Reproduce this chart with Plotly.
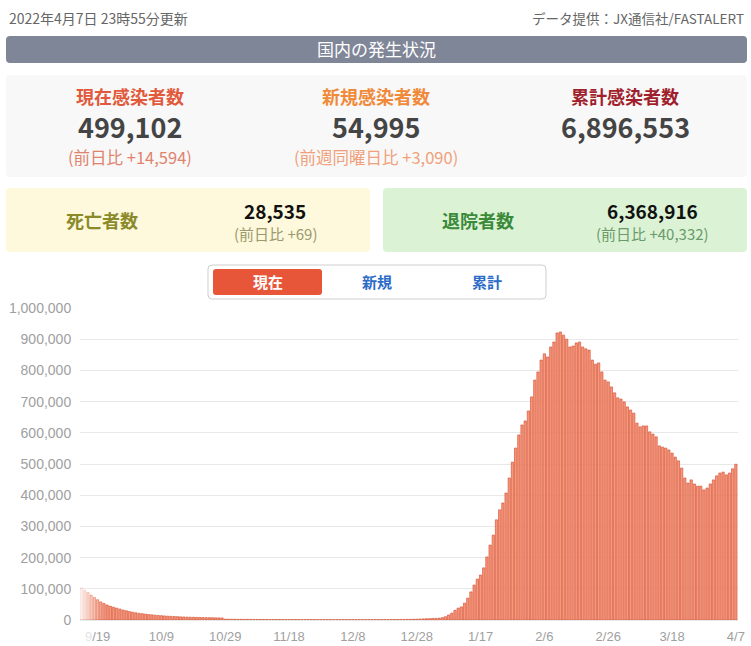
import plotly.graph_objects as go
import pandas as pd

W, H = 751, 646

# ---------------- data ----------------
start_date = "2021-09-14"
sep_vals = [103000, 95000, 88000, 80000, 72000, 65000, 58000, 53000, 48000, 44000,
            41000, 38000, 35000, 32000, 29500, 27000, 25000]
oct_vals = [23000, 21500, 20000, 18800, 17500, 16500, 15500, 14600, 13800, 13000,
            12300, 11700, 11100, 10600, 10100, 9700, 9300, 9000, 8700, 8400,
            8100, 7900, 7600, 7400, 7200, 7000, 6800, 6600, 2600, 2500, 2400]
nov_vals = [2300, 2200, 2100, 2000, 1950, 1900, 1850, 1800, 1750, 1700,
            1650, 1600, 1580, 1550, 1520, 1500, 1480, 1450, 1430, 1400,
            1380, 1360, 1340, 1320, 1300, 1290, 1280, 1270, 1260, 1250]
dec_vals = [1250, 1250, 1240, 1240, 1230, 1230, 1220, 1220, 1220, 1230,
            1240, 1250, 1260, 1280, 1300, 1320, 1350, 1380, 1420, 1460,
            1520, 1600, 1700, 1800, 1950, 2100, 2300, 2600, 3000, 3500, 4100]
jan_vals = [4300, 4700, 5000, 5800, 7500, 10500, 16000, 22000, 31000, 38000,
            42000, 54000, 70000, 90000, 112000, 131000, 144000, 167000, 202000, 240000,
            272000, 321000, 353000, 375000, 407000, 455000, 506000, 551000, 593000, 625000,
            638000]
feb_vals = [670000, 715000, 769000, 795000, 833000, 853000, 843000, 875000, 891000, 920000,
            923000, 913000, 900000, 875000, 878000, 888000, 891000, 875000, 869000, 865000,
            833000, 820000, 824000, 795000, 769000, 763000, 747000, 728000]
mar_vals = [712000, 708000, 699000, 683000, 673000, 663000, 631000, 619000, 622000, 622000,
            603000, 596000, 587000, 558000, 554000, 551000, 545000, 535000, 522000, 510000,
            487000, 455000, 439000, 449000, 436000, 429000, 429000, 417000, 423000, 436000,
            449000]
apr_vals = [462000, 471000, 474000, 465000, 471000, 484508, 499102]

active_cases = sep_vals + oct_vals + nov_vals + dec_vals + jan_vals + feb_vals + mar_vals + apr_vals
dates = pd.date_range(start_date, periods=len(active_cases), freq="D")

tick_dates = ["2021-09-19", "2021-10-09", "2021-10-29", "2021-11-18", "2021-12-08",
              "2021-12-28", "2022-01-17", "2022-02-06", "2022-02-26", "2022-03-18", "2022-04-07"]
tick_labels = ["<span style='color:#e4e4e4'>9</span>/19", "10/9", "10/29", "11/18", "12/8",
               "12/28", "1/17", "2/6", "2/26", "3/18", "4/7"]
y_ticks = [0, 100000, 200000, 300000, 400000, 500000, 600000, 700000, 800000, 900000, 1000000]

# summary figures
update_text = "2022年4月7日 23時55分更新"
source_text = "データ提供：JX通信社/FASTALERT"
section_title = "国内の発生状況"
summary_labels = ["現在感染者数", "新規感染者数", "累計感染者数"]
summary_values = ["499,102", "54,995", "6,896,553"]
summary_diffs = ["(前日比 +14,594)", "(前週同曜日比 +3,090)", ""]
death_label, death_value, death_diff = "死亡者数", "28,535", "(前日比 +69)"
recov_label, recov_value, recov_diff = "退院者数", "6,368,916", "(前日比 +40,332)"
tab_labels = ["現在", "新規", "累計"]

# ---------------- helpers ----------------
def X(px):
    return px / W

def Y(py):
    return 1 - py / H

def rrect(x0, y0, x1, y1, r, fill, line=None, lw=0):
    rx, ry = r / W, r / H
    a0, a1 = X(x0), X(x1)
    b0, b1 = Y(y1), Y(y0)  # bottom, top in paper
    p = (f"M {a0+rx},{b1} L {a1-rx},{b1} Q {a1},{b1} {a1},{b1-ry} "
         f"L {a1},{b0+ry} Q {a1},{b0} {a1-rx},{b0} L {a0+rx},{b0} "
         f"Q {a0},{b0} {a0},{b0+ry} L {a0},{b1-ry} Q {a0},{b1} {a0+rx},{b1} Z")
    return dict(type="path", path=p, xref="paper", yref="paper", fillcolor=fill,
                line=dict(color=line if line else fill, width=lw), layer="below")

JP = "Noto Sans CJK JP"
ann = []

def text(px, py, s, size, color, bold=False, anchor="center", family=JP):
    ann.append(dict(x=X(px), y=Y(py), xref="paper", yref="paper", showarrow=False,
                    text=(f"<b>{s}</b>" if bold else s), xanchor=anchor, yanchor="middle",
                    font=dict(family=family, size=size, color=color)))

# ---------------- bars ----------------
fade_alpha = [0.15, 0.25, 0.36, 0.48, 0.6, 0.72, 0.84, 0.94]
alphas = [fade_alpha[i] if i < len(fade_alpha) else 1.0 for i in range(len(active_cases))]
fill_cols = [f"rgba(249,150,122,{a})" for a in alphas]
line_cols = [f"rgba(214,87,59,{a})" for a in alphas]

fig = go.Figure(go.Bar(x=dates, y=active_cases,
                       marker=dict(color=fill_cols, line=dict(color=line_cols, width=0.7)),
                       hoverinfo="skip"))

# ---------------- dashboard header ----------------
shapes = [
    rrect(6, 36, 747, 63, 4, "#7f8698"),
    rrect(6, 75, 747, 177, 4, "#f8f8f8"),
    rrect(6, 188, 370, 252, 4, "#fef8dc"),
    rrect(383, 188, 747, 252, 4, "#dcf2d5"),
    rrect(208, 265, 546, 299, 4, "#ffffff", "#cfcfcf", 1),
    rrect(213, 269, 322, 295, 3, "#e8563a"),
]

text(7, 18, update_text, 14, "#666666", anchor="left")
text(746, 18, source_text, 13.5, "#666666", anchor="right")
text(376, 49, section_title, 17, "#ffffff")

label_colors = ["#e15a3c", "#f08a3a", "#a01f2d"]
diff_colors = ["#e0826c", "#f0a07a", "#999999"]
centers = [130, 376, 625]
for i in range(3):
    text(centers[i], 96, summary_labels[i], 18, label_colors[i], bold=True)
    text(centers[i], 126, summary_values[i], 27, "#444444", bold=True)
    if summary_diffs[i]:
        text(centers[i], 157, summary_diffs[i], 16.5, diff_colors[i])

text(102, 220, death_label, 18, "#8a8a2a", bold=True)
text(275, 210, death_value, 19, "#111111", bold=True)
text(275, 234, death_diff, 15, "#9a9a6e")

text(478, 220, recov_label, 18, "#3a8a3a", bold=True)
text(652, 210, recov_value, 19, "#111111", bold=True)
text(652, 234, recov_diff, 15, "#6a9a6a")

text(268, 282, tab_labels[0], 15, "#ffffff", bold=True)
text(377, 282, tab_labels[1], 15, "#2b6cc9", bold=True)
text(487, 282, tab_labels[2], 15, "#2b6cc9", bold=True)

# ---------------- layout ----------------
fig.update_layout(
    width=W, height=H, autosize=False,
    margin=dict(l=0, r=0, t=0, b=0),
    paper_bgcolor="#ffffff", plot_bgcolor="#ffffff",
    showlegend=False, bargap=0.28,
    shapes=shapes, annotations=ann,
    xaxis=dict(domain=[X(80), X(738)], type="date",
               range=["2021-09-13 12:00", "2022-04-07 16:00"],
               tickmode="array", tickvals=tick_dates, ticktext=tick_labels,
               showgrid=False, zeroline=False, showline=False,
               ticks="outside", ticklen=4, tickcolor="rgba(0,0,0,0)",
               tickfont=dict(family="Liberation Sans, Arial", size=13, color="#a0a0a0"),
               automargin=False, fixedrange=True),
    yaxis=dict(domain=[Y(620), Y(308)], range=[0, 1000000],
               tickmode="array", tickvals=y_ticks, tickformat=",d",
               showgrid=True, gridcolor="#e8e8e8", gridwidth=1,
               zeroline=True, zerolinecolor="#e8e8e8", showline=False,
               ticks="outside", ticklen=5, tickcolor="rgba(0,0,0,0)",
               tickfont=dict(family="Liberation Sans, Arial", size=14, color="#a0a0a0"),
               automargin=False, fixedrange=True),
)

fig.write_html("out.html", config={"displayModeBar": False},
               post_script="document.body.style.margin='0';document.body.style.overflow='hidden';")
